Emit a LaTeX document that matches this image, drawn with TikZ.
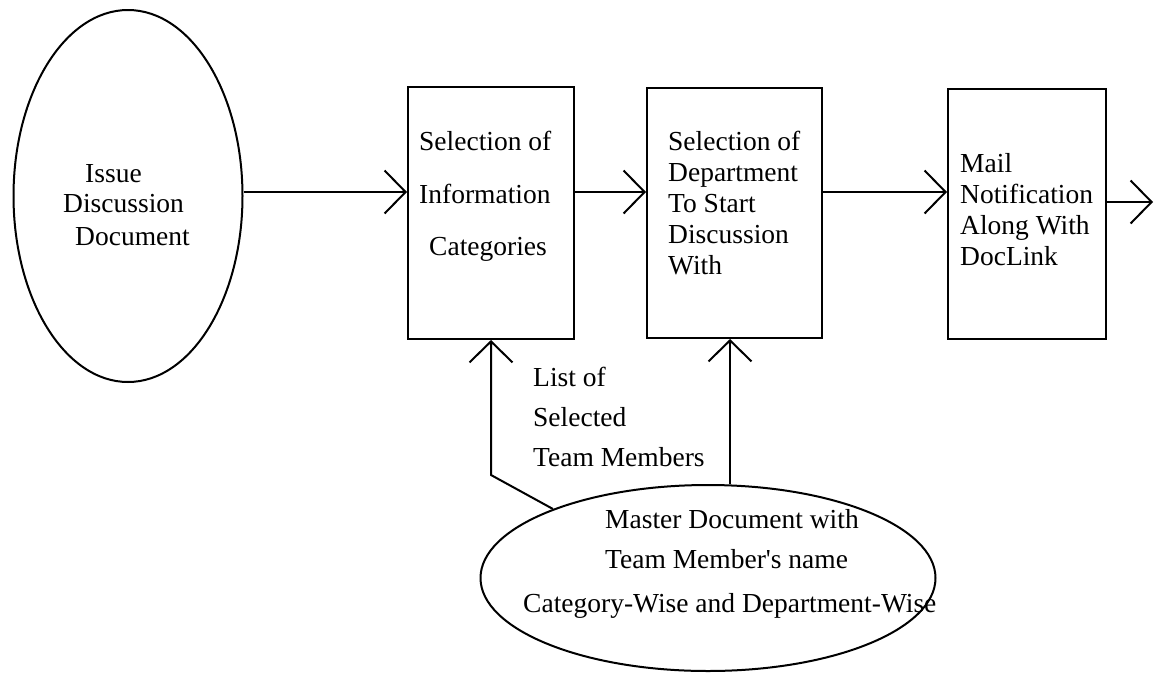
\documentclass[tikz,border=0pt]{standalone}
\usepackage{fontspec}
\setmainfont{Liberation Serif}[Ligatures=TeXOff]
\usetikzlibrary{shapes.geometric,arrows.meta}

\tikzset{
  box/.style={draw, line width=2pt, inner sep=0pt},
  oval/.style={ellipse, draw, line width=2pt, inner sep=0pt},
  arr/.style={line width=2pt, -{Straight Barb[length=21pt, width=43pt, line width=2pt]}},
  lbl/.style={anchor=base west, inner sep=0pt, font=\fontsize{27.5pt}{30pt}\selectfont}
}

\begin{document}
\begin{tikzpicture}[x=1pt, y=-1pt]
\useasboundingbox (0,0) rectangle (1154,673);

% shapes
\node[oval, minimum width=229pt, minimum height=372pt] (issue) at (128,196) {};
\node[box, minimum width=166pt, minimum height=252pt] (box1) at (491,213) {};
\node[box, minimum width=175pt, minimum height=250pt] (box2) at (734.5,213) {};
\node[box, minimum width=158pt, minimum height=250pt] (box3) at (1027,214) {};
\node[oval, minimum width=455pt, minimum height=186pt] (master) at (708,578) {};

% texts
\node[lbl] (t1a) at (85,182) {Issue};
\node[lbl] (t1b) at (63,212) {Discussion};
\node[lbl] (t1c) at (75,245) {Document};

\node[lbl] (t2a) at (419,150) {Selection of};
\node[lbl] (t2b) at (419,203) {Information};
\node[lbl] (t2c) at (429,255) {Categories};

\node[lbl] (t3a) at (668,150) {Selection of};
\node[lbl] (t3b) at (668,181) {Department};
\node[lbl] (t3c) at (668,212) {To Start};
\node[lbl] (t3d) at (668,243) {Discussion};
\node[lbl] (t3e) at (668,274) {With};

\node[lbl] (t4a) at (960,172) {Mail};
\node[lbl] (t4b) at (960,203) {Notification};
\node[lbl] (t4c) at (960,234) {Along With};
\node[lbl] (t4d) at (960,265) {DocLink};

\node[lbl] (t5a) at (533,386) {List of};
\node[lbl] (t5b) at (533,426) {Selected};
\node[lbl] (t5c) at (533,466) {Team Members};

\node[lbl] (t6a) at (605,528) {Master Document with};
\node[lbl] (t6b) at (605,568) {Team Member's name};
\node[lbl] (t6c) at (523,612) {Category-Wise and Department-Wise};

% connectors
\coordinate (out) at (1153,202);
\draw[arr] (issue.east |- 0,192) -- (box1.west |- 0,192);
\draw[arr] (box1.east |- 0,192) -- (box2.west |- 0,192);
\draw[arr] (box2.east |- 0,192) -- (box3.west |- 0,192);
\draw[arr] (box3.east |- out) -- (out);
\draw[arr] (master.156) -- (box1.south |- 0,475) -- (box1.south);
\draw[arr] (master.north -| 730,0) -- (box2.south -| 730,0);
\end{tikzpicture}
\end{document}
